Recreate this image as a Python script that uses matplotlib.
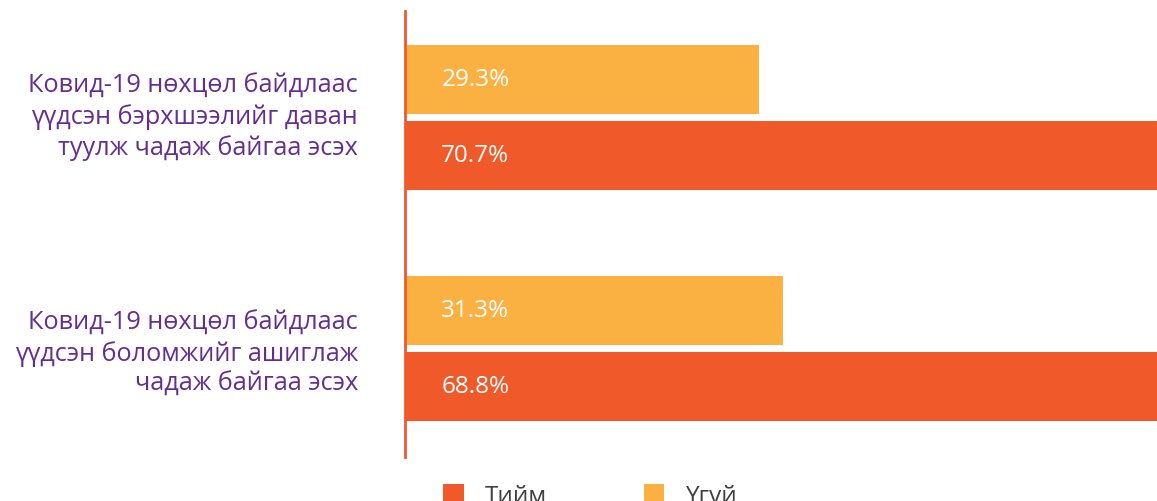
import matplotlib
matplotlib.use("Agg")
from matplotlib import pyplot as plt

plt.rcParams['font.family'] = ['Open Sans', 'DejaVu Sans']

categories = ["Ковид-19 нөхцөл байдлаас\nүүдсэн бэрхшээлийг даван\nтуулж чадаж байгаа эсэх",
              "Ковид-19 нөхцөл байдлаас\nүүдсэн боломжийг ашиглаж\nчадаж байгаа эсэх"]
yes_vals = [70.7, 68.8]
no_vals = [29.3, 31.3]
series_names = ["Тийм", "Үгүй"]

red = "#F05A2B"
yellow = "#FBB042"
purple = "#662D91"

W, H = 1157, 502
fig = plt.figure(figsize=(W/100, H/100), dpi=100)
ax = fig.add_axes([405/W, 1-458/H, 1-405/W, 446/H])

y = [0, 1]
off = 0.1645
h = 0.30
b_yes = ax.barh([v + off for v in y], yes_vals, height=h, color=red, label=series_names[0])
b_no = ax.barh([v - off for v in y], no_vals, height=h, color=yellow, label=series_names[1])

for bars in (b_yes, b_no):
    for r in bars:
        ax.text(3.0, r.get_y() + r.get_height()/2, "%.1f%%" % r.get_width(),
                color="white", fontsize=17.5, va="center", ha="left")

ax.set_xlim(0, 62.2)
ax.set_ylim(1.47, -0.461)

# category labels (first one sits a bit higher in the original)
lab_shift = [-0.005, 0.02]
for yy, lab, sh in zip(y, categories, lab_shift):
    ax.text(-47/751, yy + sh, lab, transform=ax.get_yaxis_transform(),
            ha="right", va="center", fontsize=18.2, color=purple, linespacing=1.26,
            multialignment="right")

ax.set_yticks([])
ax.set_xticks([])
for s in ['top', 'right', 'bottom']:
    ax.spines[s].set_visible(False)
ax.spines['left'].set_color(red)
ax.spines['left'].set_linewidth(2)

leg = ax.legend(handles=[b_yes, b_no], ncol=2, loc='upper left',
                bbox_to_anchor=(431/W, 1-473/H), bbox_transform=fig.transFigure,
                frameon=False, borderpad=0, handlelength=0.85, handleheight=0.85,
                handletextpad=0.85, columnspacing=4.0, fontsize=17.5, labelcolor="#404040")

fig.savefig("out.png", dpi=100)
